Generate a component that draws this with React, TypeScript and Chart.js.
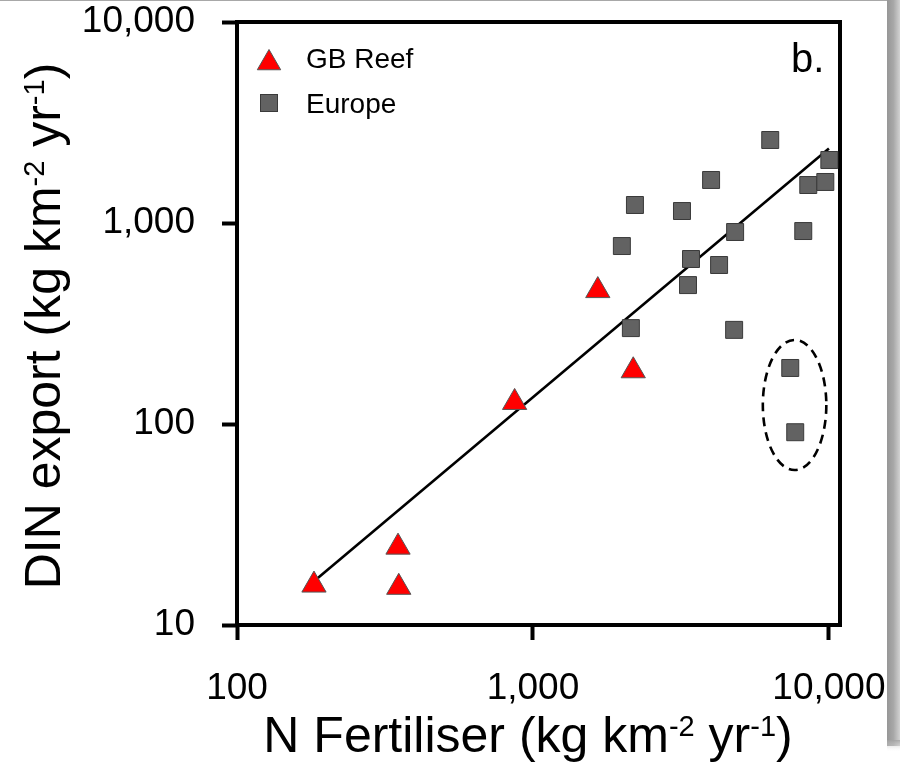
import React, { useEffect, useRef } from "react";
import { Chart, registerables } from "chart.js";
Chart.register(...registerables);

const FONT = '"Liberation Sans", Arial, Helvetica, sans-serif';

// ---- data ----
const seriesNames = ["GB Reef", "Europe"];

const gbReefX = [182, 350, 352, 867, 1656, 2182];
const gbReefY = [15.8, 24.4, 15.4, 128, 461, 184];

const europeX = [6334, 10032, 3998, 2211, 3188, 8516, 9723, 1997, 4820, 8190, 3420, 4255, 3341, 2142, 4783, 7402, 7694];
const europeY = [2588, 2058, 1637, 1229, 1147, 1545, 1600, 768, 902, 912, 662, 618, 491, 300, 294, 190, 91];

const fitX = [182, 10000];
const fitY = [16.5, 2350];

const outlierEllipseX = [5980, 9800];
const outlierEllipseY = [59, 262];

const xTicks = [100, 1000, 10000];
const yTicks = [10, 100, 1000, 10000];
const xRange = [100, 10900];
const yRange = [10, 10000];

const panelLabel = "b.";
const xTitleParts = [
  { t: "N Fertiliser (kg km" },
  { t: "-2", sup: true },
  { t: " yr" },
  { t: "-1", sup: true },
  { t: ")" },
];
const yTitleParts = [
  { t: "DIN export (kg km" },
  { t: "-2", sup: true },
  { t: " yr" },
  { t: "-1", sup: true },
  { t: ")" },
];

const TITLE_SIZE = 50;
const TICK_SIZE = 37;
const SUP_RATIO = 0.58;

function richWidth(ctx: CanvasRenderingContext2D, parts: any[], size: number) {
  let w = 0;
  for (const p of parts) {
    ctx.font = `${p.sup ? Math.round(size * SUP_RATIO) : size}px ${FONT}`;
    w += ctx.measureText(p.t).width;
  }
  return w;
}

function drawRich(ctx: CanvasRenderingContext2D, parts: any[], cx: number, baseY: number, size: number) {
  const total = richWidth(ctx, parts, size);
  let x = cx - total / 2;
  ctx.textAlign = "left";
  ctx.textBaseline = "alphabetic";
  ctx.fillStyle = "#000";
  for (const p of parts) {
    const s = p.sup ? Math.round(size * SUP_RATIO) : size;
    ctx.font = `${s}px ${FONT}`;
    ctx.fillText(p.t, x, p.sup ? baseY - size * 0.33 : baseY);
    x += ctx.measureText(p.t).width;
  }
}

const decorPlugin = {
  id: "decor",
  beforeDraw(chart: any) {
    const { ctx, width, height } = chart;
    ctx.save();
    ctx.fillStyle = "#ffffff";
    ctx.fillRect(0, 0, width, height);
    ctx.fillStyle = "#a8a8a8";
    ctx.fillRect(0, 0, width, 1);
    const g = ctx.createLinearGradient(887, 0, 900, 0);
    g.addColorStop(0, "#969696");
    g.addColorStop(0.5, "#a8a8a8");
    g.addColorStop(1, "#d2d2d2");
    ctx.fillStyle = g;
    ctx.fillRect(887, 0, 13, 746);
    const g2 = ctx.createLinearGradient(0, 740, 0, 752);
    g2.addColorStop(0, "rgba(160,160,160,0.8)");
    g2.addColorStop(1, "rgba(255,255,255,0)");
    ctx.fillStyle = g2;
    ctx.fillRect(887, 740, 13, 12);
    ctx.restore();
  },
  beforeDatasetsDraw(chart: any) {
    const { ctx, chartArea: a } = chart;
    ctx.save();
    ctx.strokeStyle = "#000";
    ctx.lineWidth = 4;
    ctx.strokeRect(a.left, a.top, a.right - a.left, a.bottom - a.top);
    ctx.restore();
  },
  afterDraw(chart: any) {
    const { ctx, chartArea: a } = chart;
    const xs = chart.scales.x;
    const ys = chart.scales.y;
    ctx.save();
    // dashed ellipse
    const x0 = xs.getPixelForValue(outlierEllipseX[0]);
    const x1 = xs.getPixelForValue(outlierEllipseX[1]);
    const y0 = ys.getPixelForValue(outlierEllipseY[0]);
    const y1 = ys.getPixelForValue(outlierEllipseY[1]);
    ctx.setLineDash([9, 6]);
    ctx.lineWidth = 2.6;
    ctx.strokeStyle = "#000";
    ctx.beginPath();
    ctx.ellipse((x0 + x1) / 2, (y0 + y1) / 2, Math.abs(x1 - x0) / 2, Math.abs(y1 - y0) / 2, 0, 0, Math.PI * 2);
    ctx.stroke();
    ctx.setLineDash([]);

    // legend
    const lx = a.left + 32;
    const ty = a.top + 41;
    const r = 13.5;
    ctx.beginPath();
    ctx.moveTo(lx, ty - r);
    ctx.lineTo(lx + r * Math.sin((2 * Math.PI) / 3), ty + r / 2);
    ctx.lineTo(lx - r * Math.sin((2 * Math.PI) / 3), ty + r / 2);
    ctx.closePath();
    ctx.fillStyle = "#ff0000";
    ctx.fill();
    ctx.lineWidth = 1;
    ctx.strokeStyle = "#555";
    ctx.stroke();
    const sy = a.top + 81;
    ctx.fillStyle = "#626262";
    ctx.fillRect(lx - 8.5, sy - 8.5, 17, 17);
    ctx.strokeStyle = "#3a3a3a";
    ctx.strokeRect(lx - 8.5, sy - 8.5, 17, 17);
    ctx.fillStyle = "#000";
    ctx.font = `28px ${FONT}`;
    ctx.textAlign = "left";
    ctx.textBaseline = "alphabetic";
    ctx.fillText(seriesNames[0], a.left + 69, a.top + 46);
    ctx.fillText(seriesNames[1], a.left + 69, a.top + 91);

    // panel label
    ctx.font = `40px ${FONT}`;
    ctx.fillText(panelLabel, a.right - 49, a.top + 50);

    // axis titles
    drawRich(ctx, xTitleParts, 528, 752, TITLE_SIZE);
    ctx.save();
    ctx.translate(60, 326);
    ctx.rotate(-Math.PI / 2);
    drawRich(ctx, yTitleParts, 0, 0, TITLE_SIZE);
    ctx.restore();
    ctx.restore();
  },
};

const fmt = (v: any) => Number(v).toLocaleString("en-US");

export default function App() {
  const ref = useRef<HTMLCanvasElement | null>(null);
  useEffect(() => {
    if (!ref.current) return;
    const chart = new Chart(ref.current, {
      type: "scatter",
      data: {
        datasets: [
          {
            label: seriesNames[0],
            data: gbReefX.map((x, i) => ({ x, y: gbReefY[i] })),
            pointStyle: "triangle",
            pointRadius: 14,
            backgroundColor: "#ff0000",
            borderColor: "#555555",
            borderWidth: 1,
            clip: false,
          } as any,
          {
            label: seriesNames[1],
            data: europeX.map((x, i) => ({ x, y: europeY[i] })),
            pointStyle: "rect",
            pointRadius: 12,
            backgroundColor: "#626262",
            borderColor: "#3a3a3a",
            borderWidth: 1,
            clip: false,
          } as any,
          {
            label: "fit",
            type: "line",
            data: fitX.map((x, i) => ({ x, y: fitY[i] })),
            borderColor: "#000",
            borderWidth: 2.6,
            pointRadius: 0,
            showLine: true,
            fill: false,
          } as any,
        ],
      },
      options: {
        responsive: false,
        animation: false,
        events: [],
        layout: { padding: { left: 0, top: 22, right: 60, bottom: 0 } },
        plugins: { legend: { display: false }, tooltip: { enabled: false } },
        scales: {
          x: {
            type: "logarithmic",
            min: xRange[0],
            max: xRange[1],
            afterBuildTicks: (s: any) => {
              s.ticks = xTicks.map((v) => ({ value: v }));
            },
            afterFit: (s: any) => {
              s.height = 137;
              s.paddingLeft = 0;
              s.paddingRight = 0;
            },
            ticks: {
              callback: fmt,
              autoSkip: false,
              maxRotation: 0,
              padding: 27,
              color: "#000",
              font: { family: FONT, size: TICK_SIZE },
            },
            grid: {
              drawOnChartArea: false,
              drawTicks: true,
              tickLength: 15,
              tickWidth: 4,
              tickColor: "#000",
            },
            border: { display: false },
          },
          y: {
            type: "logarithmic",
            min: yRange[0],
            max: yRange[1],
            afterBuildTicks: (s: any) => {
              s.ticks = yTicks.map((v) => ({ value: v }));
            },
            afterFit: (s: any) => {
              s.width = 237;
              s.paddingTop = 0;
              s.paddingBottom = 0;
            },
            ticks: {
              callback: fmt,
              autoSkip: false,
              padding: 27,
              color: "#000",
              font: { family: FONT, size: TICK_SIZE },
            },
            grid: {
              drawOnChartArea: false,
              drawTicks: true,
              tickLength: 15,
              tickWidth: 4,
              tickColor: "#000",
            },
            border: { display: false },
          },
        },
      },
      plugins: [decorPlugin],
    });
    return () => chart.destroy();
  }, []);
  return (
    <div style={{ position: "absolute", left: 0, top: 0, width: 900, height: 762, background: "#fff" }}>
      <canvas ref={ref} width={900} height={762} style={{ display: "block", width: 900, height: 762 }} />
    </div>
  );
}
